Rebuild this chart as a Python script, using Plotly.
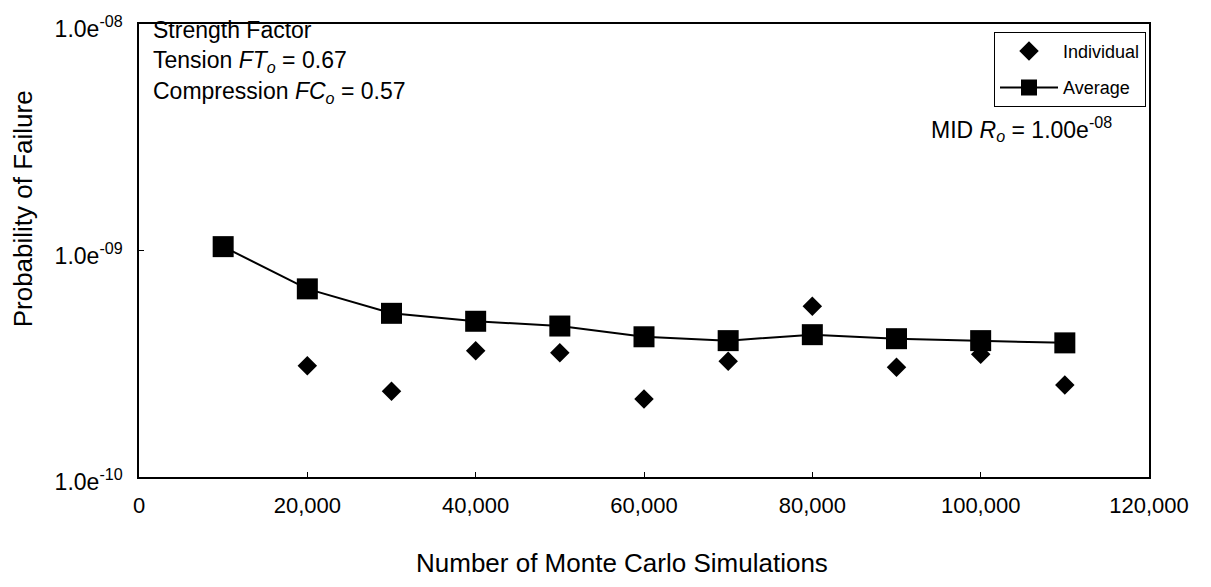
import plotly.graph_objects as go

# Monte Carlo sample sizes and failure probabilities
simulations = [10000, 20000, 30000, 40000, 50000, 60000, 70000, 80000, 90000, 100000, 110000]
individual = [1.04e-9, 3.10e-10, 2.39e-10, 3.61e-10, 3.54e-10, 2.21e-10,
              3.24e-10, 5.67e-10, 3.05e-10, 3.48e-10, 2.55e-10]
average = [1.04e-9, 6.77e-10, 5.28e-10, 4.87e-10, 4.64e-10, 4.16e-10,
           4.00e-10, 4.25e-10, 4.08e-10, 4.00e-10, 3.91e-10]

x_tick_vals = [0, 20000, 40000, 60000, 80000, 100000, 120000]
y_tick_vals = [1e-10, 1e-9, 1e-8]
y_tick_text = ["1.0e<sup>-10</sup>", "1.0e<sup>-09</sup>", "1.0e<sup>-08</sup>"]

FONT = "Liberation Sans, Arial, sans-serif"

# plot area in pixels
W, H = 1211, 587
L, R, T, B = 139, 1149, 15, 477
PW, PH = R - L, B - T


def px(x):
    return (x - L) / PW


def py(y):
    return (B - y) / PH


fig = go.Figure()
fig.add_trace(go.Scatter(
    x=simulations, y=individual, mode="markers", name="Individual",
    legendgroup="ind",
    marker=dict(symbol="diamond", size=15, color="black"),
))
fig.add_trace(go.Scatter(
    x=simulations, y=average, mode="lines+markers", name="Average",
    legendgroup="avg",
    line=dict(color="black", width=2),
    marker=dict(symbol="square", size=21, color="black"),
))

notes = [
    ("Strength Factor", 21),
    ("Tension <i>FT<sub>o</sub></i> = 0.67", 53),
    ("Compression <i>FC<sub>o</sub></i> = 0.57", 85),
]
annotations = [
    dict(text=t, xref="paper", yref="paper", x=px(151), y=py(yc),
         xanchor="left", yanchor="middle", showarrow=False, font=dict(size=23))
    for t, yc in notes
]
annotations += [
    dict(text="MID <i>R<sub>o</sub></i> = 1.00e<sup>-08</sup>",
         xref="paper", yref="paper", x=px(1114), y=py(122),
         xanchor="right", yanchor="middle", showarrow=False, font=dict(size=23)),
    dict(text="Number of Monte Carlo Simulations", xref="paper", yref="paper",
         x=px(622), y=py(565), xanchor="center", yanchor="middle",
         showarrow=False, font=dict(size=26)),
    dict(text="Probability of Failure", xref="paper", yref="paper",
         x=px(23), y=py(204), xanchor="center", yanchor="middle",
         textangle=-90, showarrow=False, font=dict(size=26)),
]

fig.update_layout(
    width=W, height=H,
    margin=dict(l=L, r=W - R, t=T, b=H - B),
    paper_bgcolor="white", plot_bgcolor="white",
    font=dict(family=FONT, color="black", size=20),
    showlegend=True,
    legend=dict(
        x=px(1146), y=py(23), xanchor="right", yanchor="top",
        bordercolor="black", borderwidth=1, bgcolor="white",
        font=dict(size=18), traceorder="grouped", tracegroupgap=10,
        itemwidth=58,
    ),
    xaxis=dict(
        range=[0, 120000], tickvals=x_tick_vals,
        tickformat=",", ticks="inside", ticklen=5, tickcolor="black",
        showline=True, linecolor="black", linewidth=1.5, mirror=True,
        showgrid=False, zeroline=False, tickfont=dict(size=22),
        ticklabelstandoff=8,
    ),
    yaxis=dict(
        type="log", range=[-10, -8], tickvals=y_tick_vals, ticktext=y_tick_text,
        ticks="inside", ticklen=5, tickcolor="black",
        showline=True, linecolor="black", linewidth=1.5, mirror=True,
        showgrid=False, zeroline=False, tickfont=dict(size=23),
        ticklabelstandoff=10, ticklabelshift=5,
    ),
    annotations=annotations,
)

fig.write_html("out.html")
